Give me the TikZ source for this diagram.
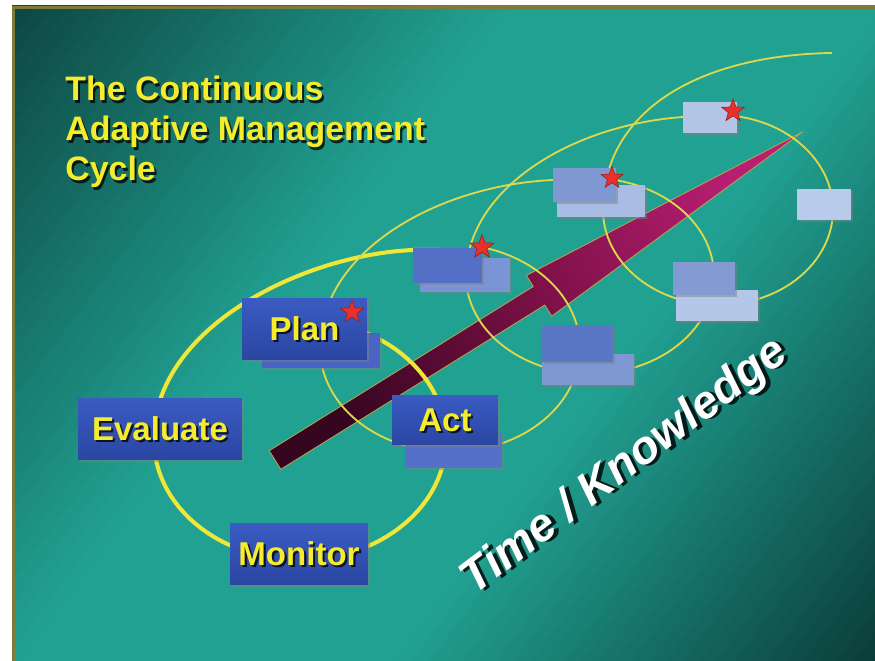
\documentclass[tikz,border=0pt]{standalone}
\usepackage{fontspec}
\setmainfont{Liberation Sans}
\usetikzlibrary{shapes.geometric,shadows}

\definecolor{slidedark}{HTML}{0D4843}
\definecolor{slidelight}{HTML}{21A192}
\definecolor{slidedeep}{HTML}{0A3B37}
\definecolor{slideframe}{HTML}{7E7A3C}
\definecolor{ringbold}{HTML}{EEE638}
\definecolor{ringfine}{HTML}{DCD84E}
\definecolor{cycleyellow}{HTML}{F4EC2C}
\definecolor{boxtop}{HTML}{3B5BC2}
\definecolor{boxbottom}{HTML}{2A46A2}
\definecolor{arrowtail}{HTML}{360620}
\definecolor{arrowmid}{HTML}{7A1046}
\definecolor{arrowhead}{HTML}{B81E72}
\definecolor{arrowedge}{HTML}{B0A455}
\definecolor{starred}{HTML}{E8302C}
\definecolor{stardark}{HTML}{9A1A16}
\definecolor{planback}{HTML}{4964C2}
\definecolor{actback}{HTML}{5470C8}
\definecolor{plantwo}{HTML}{5370C6}
\definecolor{plantwoback}{HTML}{7A94D6}
\definecolor{acttwo}{HTML}{5A77C6}
\definecolor{acttwoback}{HTML}{7E98D4}
\definecolor{planthree}{HTML}{7F98D2}
\definecolor{planthreeback}{HTML}{A9BDE4}
\definecolor{actthree}{HTML}{839BD2}
\definecolor{actthreeback}{HTML}{B5C7E8}
\definecolor{planfour}{HTML}{B2C5E7}
\definecolor{actfour}{HTML}{B9CBEA}

\begin{document}
\begin{tikzpicture}[x=0.02cm, y=-0.02cm,
  cyclebox/.style={rectangle, inner sep=0pt, drop shadow={shadow xshift=1.4pt, shadow yshift=-1.4pt, opacity=0.5}},
  mainbox/.style={cyclebox, top color=boxtop, bottom color=boxbottom},
  redstar/.style={star, star points=5, star point ratio=2.4, inner sep=0pt, fill=starred, draw=stardark, line width=0.3pt},
  ringthick/.style={ringbold, line width=2.3pt},
  ringthin/.style={ringfine, line width=1.05pt},
  boxtext/.style={font=\bfseries\fontsize{18.8}{22}\selectfont, text=cycleyellow, inner sep=0pt},
  boxshade/.style={boxtext, text=black, opacity=0.75, xshift=1.2pt, yshift=-1.2pt},
  titletext/.style={font=\bfseries\fontsize{19.3}{23}\selectfont, text=cycleyellow, inner sep=0pt, anchor=base west},
  titleshade/.style={titletext, text=black, opacity=0.75, xshift=1.2pt, yshift=-1.2pt},
  timetext/.style={font=\bfseries\itshape\fontsize{26.5}{31}\selectfont, text=white, inner sep=0pt, rotate=37},
  timeshade/.style={timetext, text=black, opacity=0.8, xshift=1.8pt, yshift=-1.8pt}]
  \useasboundingbox (0,0) rectangle (875,661);
  \fill[white] (0,0) rectangle (875,661);
  % slide background, diagonal bands
  \begin{scope}
    \clip (12,6) rectangle (875,661);
    \foreach \i in {0,...,80} {
      \pgfmathsetmacro\s{5+\i*13.6}
      \pgfmathsetmacro\f{max(0,(\s-13)/1084)}
      \pgfmathsetmacro\ma{min(100,100*\f/0.36)}
      \pgfmathsetmacro\mb{max(0,100*(\f-0.64)/0.36)}
      \colorlet{stripa}{slidelight!\ma!slidedark}
      \colorlet{stripb}{slidedeep!\mb!stripa}
      \fill[stripb] ({0.8*\s+720},{0.6*\s-960}) -- ({0.8*\s-720},{0.6*\s+960}) -- ({0.8*(\s+14.6)-720},{0.6*(\s+14.6)+960}) -- ({0.8*(\s+14.6)+720},{0.6*(\s+14.6)-960}) -- cycle;
    }
  \end{scope}
  \draw[slideframe, line width=1.7pt] (13.5,661) -- (13.5,7.5) -- (875,7.5);
  % arrow of time
  \shade[draw=arrowedge, line width=0.5pt, left color=arrowtail, right color=arrowhead, middle color=arrowmid, shading angle=121.8]
    (269.2,450.7) -- (533.2,286.5) -- (526.3,275.4) -- (803.1,131.6) -- (551.7,316.2) -- (544.8,305.1) -- (280.8,469.3) -- cycle;
  % the spiral, loop by loop
  \draw[ringthick] plot[domain=-90:180, samples=80, variable=\t] ({300+146*cos(\t)}, {440+120*sin(\t)})
    .. controls (152,330) and (300,255) .. (413,250) -- (440,250);
  \draw[ringthin] plot[domain=-75:180, samples=80, variable=\t] ({450+130*cos(\t)}, {348+104*sin(\t)})
    .. controls (320,250) and (440,185) .. (553,180) -- (570,180);
  \draw[ringthin] plot[domain=-80:180, samples=80, variable=\t] ({590+124*cos(\t)}, {276+98*sin(\t)})
    .. controls (466,190) and (570,125) .. (683,117) -- (700,117);
  \draw[ringthin] plot[domain=-82:180, samples=80, variable=\t] ({718+115*cos(\t)}, {210+95*sin(\t)})
    .. controls (603,110) and (700,55) .. (832,53);
  % boxes
  \node[mainbox, minimum width=3.28cm, minimum height=1.24cm] (evaluate) at (160,429) {};
  \node[mainbox, minimum width=2.76cm, minimum height=1.24cm] (monitor) at (299,554) {};
  \node[cyclebox, fill=planback, minimum width=2.36cm, minimum height=0.70cm] (plan back) at (321,350.5) {};
  \node[mainbox, minimum width=2.5cm, minimum height=1.24cm] (plan) at (304.5,329) {};
  \node[cyclebox, fill=actback, minimum width=1.94cm, minimum height=0.70cm] (act back) at (453.5,450.5) {};
  \node[mainbox, minimum width=2.12cm, minimum height=1.0cm] (act) at (445,420) {};
  \node[cyclebox, fill=plantwoback, minimum width=1.8cm, minimum height=0.68cm] (plan2 back) at (465,275) {};
  \node[cyclebox, fill=plantwo, minimum width=1.38cm, minimum height=0.70cm] (plan2) at (447.5,265.5) {};
  \node[cyclebox, fill=acttwoback, minimum width=1.84cm, minimum height=0.62cm] (act2 back) at (588,369.5) {};
  \node[cyclebox, fill=acttwo, minimum width=1.42cm, minimum height=0.74cm] (act2) at (577.5,343.5) {};
  \node[cyclebox, fill=planthreeback, minimum width=1.76cm, minimum height=0.64cm] (plan3 back) at (601,201) {};
  \node[cyclebox, fill=planthree, minimum width=1.26cm, minimum height=0.68cm] (plan3) at (584.5,185) {};
  \node[cyclebox, fill=actthreeback, minimum width=1.64cm, minimum height=0.62cm] (act3 back) at (717,305.5) {};
  \node[cyclebox, fill=actthree, minimum width=1.24cm, minimum height=0.66cm] (act3) at (704,278.5) {};
  \node[cyclebox, fill=planfour, minimum width=1.08cm, minimum height=0.62cm] (plan4) at (710,117.5) {};
  \node[cyclebox, fill=actfour, minimum width=1.08cm, minimum height=0.62cm] (act4) at (824,204.5) {};
  % stars
  \node[redstar, minimum size=0.48cm] (star1) at (352,312) {};
  \node[redstar, minimum size=0.5cm] (star2) at (482,247) {};
  \node[redstar, minimum size=0.46cm] (star3) at (612,178) {};
  \node[redstar, minimum size=0.48cm] (star4) at (733,111) {};
  % labels
  \node[boxshade] (evaluate shade) at (evaluate) {Evaluate};
  \node[boxtext] (evaluate text) at (evaluate) {Evaluate};
  \node[boxshade] (monitor shade) at (monitor) {Monitor};
  \node[boxtext] (monitor text) at (monitor) {Monitor};
  \node[boxshade] (plan shade) at (plan) {Plan};
  \node[boxtext] (plan text) at (plan) {Plan};
  \node[boxshade] (act shade) at (act) {Act};
  \node[boxtext] (act text) at (act) {Act};
  \node[titleshade] (title1 shade) at (65,101) {The Continuous};
  \node[titletext] (title1) at (65,101) {The Continuous};
  \node[titleshade] (title2 shade) at (65,141) {Adaptive Management};
  \node[titletext] (title2) at (65,141) {Adaptive Management};
  \node[titleshade] (title3 shade) at (65,181) {Cycle};
  \node[titletext] (title3) at (65,181) {Cycle};
  \node[timeshade] (time shade) at (625,467) {Time / Knowledge};
  \node[timetext] (time) at (625,467) {Time / Knowledge};
\end{tikzpicture}
\end{document}
